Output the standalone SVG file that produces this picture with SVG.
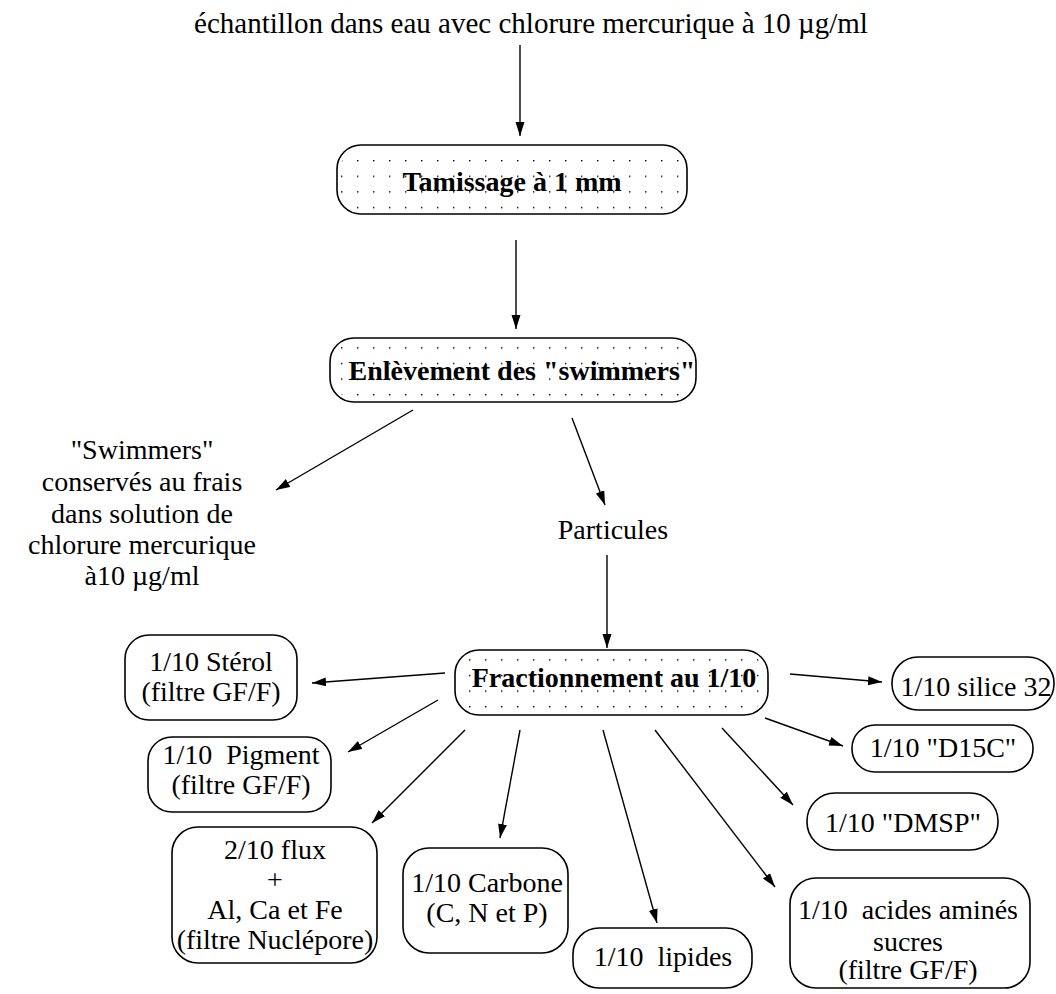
<svg xmlns="http://www.w3.org/2000/svg" width="1056" height="994" viewBox="0 0 1056 994">
<style>
text{font-family:"Liberation Serif","Times New Roman",serif;font-size:28px;fill:#000;text-anchor:middle}
.b{font-weight:bold}
.box{fill:#fff;stroke:#000;stroke-width:1.6}
.dot{fill:url(#dots);stroke:none}
.c{stroke:#000;stroke-width:1.4;fill:none;marker-end:url(#ah)}
</style>
<defs>
<pattern id="dots" x="5" y="4" width="16" height="15.6" patternUnits="userSpaceOnUse">
<rect x="0" y="0" width="1.4" height="1.4" fill="#000"/>
</pattern>
<marker id="ah" markerWidth="15" markerHeight="10" refX="14" refY="4.5" orient="auto" markerUnits="userSpaceOnUse">
<path d="M0,0 L14,4.5 L0,9 Z" fill="#000"/>
</marker>
</defs>
<rect width="1056" height="994" fill="#fff"/>

<g id="source">
<text x="531" y="33" style="font-size:29px">échantillon dans eau avec chlorure mercurique à 10 µg/ml</text>
</g>

<g id="connectors">
<line class="c" x1="520" y1="45" x2="520" y2="136"/>
<line class="c" x1="516" y1="240" x2="516" y2="329"/>
<line class="c" x1="413" y1="410" x2="276" y2="490"/>
<line class="c" x1="572" y1="418" x2="605" y2="505"/>
<line class="c" x1="607" y1="555" x2="607" y2="648"/>
<line class="c" x1="445" y1="673" x2="312" y2="683"/>
<line class="c" x1="438" y1="700" x2="348" y2="752"/>
<line class="c" x1="465" y1="730" x2="372" y2="823"/>
<line class="c" x1="520" y1="730" x2="500" y2="838"/>
<line class="c" x1="603" y1="730" x2="657" y2="923"/>
<line class="c" x1="655" y1="730" x2="775" y2="887"/>
<line class="c" x1="722" y1="728" x2="793" y2="805"/>
<line class="c" x1="765" y1="718" x2="843" y2="746"/>
<line class="c" x1="790" y1="674" x2="882" y2="682"/>
</g>

<g id="tamissage">
<rect class="box" x="337" y="145" width="350" height="69" rx="24"/>
<rect class="dot" x="340" y="148" width="344" height="63" rx="22"/>
<text class="b" x="512" y="191">Tamissage à 1 mm</text>
</g>

<g id="enlevement">
<rect class="box" x="330" y="338" width="366" height="64" rx="24"/>
<rect class="dot" x="333" y="341" width="360" height="58" rx="22"/>
<text class="b" x="522" y="380">Enlèvement des "swimmers"</text>
</g>

<g id="swimmers">
<text x="142" y="459">"Swimmers"</text>
<text x="142" y="491">conservés au frais</text>
<text x="142" y="523">dans solution de</text>
<text x="142" y="554">chlorure mercurique</text>
<text x="142" y="585">à10 µg/ml</text>
</g>

<g id="particules">
<text x="613" y="539">Particules</text>
</g>

<g id="fractionnement">
<rect class="box" x="455" y="650" width="313" height="65" rx="24"/>
<rect class="dot" x="458" y="653" width="307" height="59" rx="22"/>
<text class="b" x="614" y="687">Fractionnement au 1/10</text>
</g>

<g id="sterol">
<rect class="box" x="125" y="635" width="172" height="85" rx="24"/>
<text x="211" y="671">1/10 Stérol</text>
<text x="211" y="701">(filtre GF/F)</text>
</g>

<g id="pigment">
<rect class="box" x="148" y="737" width="183" height="75" rx="24"/>
<text x="241" y="764" xml:space="preserve">1/10  Pigment</text>
<text x="241" y="794">(filtre GF/F)</text>
</g>

<g id="flux">
<rect class="box" x="172" y="827" width="205" height="136" rx="26"/>
<text x="275" y="859">2/10 flux</text>
<text x="275" y="889">+</text>
<text x="275" y="919">Al, Ca et Fe</text>
<text x="275" y="949">(filtre Nuclépore)</text>
</g>

<g id="carbone">
<rect class="box" x="403" y="848" width="165" height="105" rx="26"/>
<text x="487" y="892">1/10 Carbone</text>
<text x="487" y="922">(C, N et P)</text>
</g>

<g id="lipides">
<rect class="box" x="573" y="928" width="179" height="60" rx="26"/>
<text x="663" y="966" xml:space="preserve">1/10  lipides</text>
</g>

<g id="acides">
<rect class="box" x="790" y="878" width="240" height="110" rx="26"/>
<text x="908" y="919" xml:space="preserve">1/10  acides aminés</text>
<text x="908" y="951">sucres</text>
<text x="908" y="979">(filtre GF/F)</text>
</g>

<g id="dmsp">
<rect class="box" x="807" y="793" width="191" height="57" rx="28"/>
<text x="903" y="832">1/10 "DMSP"</text>
</g>

<g id="d15c">
<rect class="box" x="852" y="725" width="181" height="47" rx="23"/>
<text x="943" y="757">1/10 "D15C"</text>
</g>

<g id="silice">
<rect class="box" x="892" y="657" width="162" height="53" rx="26"/>
<text x="976" y="696">1/10 silice 32</text>
</g>
</svg>
